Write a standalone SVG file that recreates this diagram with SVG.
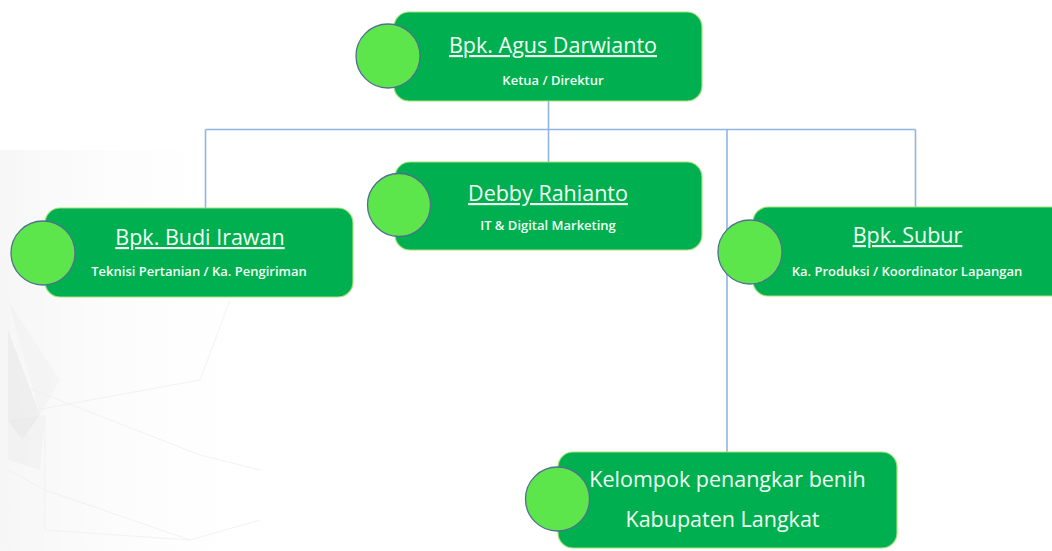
<svg xmlns="http://www.w3.org/2000/svg" width="1052" height="551" viewBox="0 0 1052 551">
  <defs>
    <linearGradient id="bgfade" x1="0" y1="0" x2="1" y2="0">
      <stop offset="0" stop-color="#d9d9d9" stop-opacity="0.55"/>
      <stop offset="1" stop-color="#ffffff" stop-opacity="0"/>
    </linearGradient>
    <style>
      .box { fill: #00b050; stroke: #a6e07a; stroke-width: 1.2; }
      .dot { fill: #5de64c; stroke: #50708f; stroke-width: 1.3; }
      .conn { stroke: #8fb6e3; stroke-width: 1.6; fill: none; }
      .title { font-family: "Open Sans", "Noto Sans", sans-serif; font-size: 21.5px; fill: #f2fff4; text-anchor: middle; text-decoration: underline; }
      .sub { font-family: "Open Sans", "Noto Sans", sans-serif; font-size: 13px; font-weight: 600; fill: #f2fff4; text-anchor: middle; }
      .big { font-family: "Open Sans", "Noto Sans", sans-serif; font-size: 21.5px; fill: #f2fff4; text-anchor: middle; }
      .poly { fill: #bdbdbd; }
      .pl { stroke: #d4d4d4; stroke-width: 0.7; fill: none; }
    </style>
  </defs>
  <rect width="1052" height="551" fill="#ffffff"/>
  <g id="background" opacity="0.4">
    <rect x="0" y="150" width="260" height="401" fill="url(#bgfade)"/>
    <polygon class="poly" points="8,330 40,415 22,440 8,420" opacity="0.45"/>
    <polygon class="poly" points="8,300 60,380 40,415" opacity="0.2"/>
    <polygon class="poly" points="8,420 45,415 40,470 8,460" opacity="0.25"/>
    <polyline class="pl" points="8,415 200,380 230,300"/>
    <polyline class="pl" points="45,415 45,530 190,540"/>
    <polyline class="pl" points="8,470 45,490 190,540 260,520"/>
    <polyline class="pl" points="8,380 200,455 260,470"/>
  </g>
  <g id="connectors">
    <line class="conn" x1="548.5" y1="101" x2="548.5" y2="162"/>
    <line class="conn" x1="205.5" y1="129.5" x2="915.5" y2="129.5"/>
    <line class="conn" x1="205.5" y1="129.5" x2="205.5" y2="208"/>
    <line class="conn" x1="915.5" y1="129.5" x2="915.5" y2="207"/>
    <line class="conn" x1="727" y1="129.5" x2="727" y2="452"/>
  </g>
  <g id="node-agus">
    <rect class="box" x="394" y="12" width="308" height="89" rx="15"/>
    <circle class="dot" cx="388" cy="56" r="32"/>
    <text class="title" x="553" y="53">Bpk. Agus Darwianto</text>
    <text class="sub" x="553" y="85">Ketua / Direktur</text>
  </g>
  <g id="node-budi">
    <rect class="box" x="45" y="208" width="308" height="89" rx="15"/>
    <circle class="dot" cx="43" cy="253" r="32"/>
    <text class="title" x="200" y="245">Bpk. Budi Irawan</text>
    <text class="sub" x="199" y="276">Teknisi Pertanian / Ka. Pengiriman</text>
  </g>
  <g id="node-debby">
    <rect class="box" x="395" y="162" width="307" height="88" rx="15"/>
    <circle class="dot" cx="399" cy="205" r="31.5"/>
    <text class="title" x="548" y="201">Debby Rahianto</text>
    <text class="sub" x="548" y="230">IT &amp; Digital Marketing</text>
  </g>
  <g id="node-subur">
    <rect class="box" x="753" y="207" width="320" height="89" rx="15"/>
    <circle class="dot" cx="750" cy="252" r="32"/>
    <text class="title" x="907.5" y="243">Bpk. Subur</text>
    <text class="sub" x="907" y="276">Ka. Produksi / Koordinator Lapangan</text>
  </g>
  <g id="node-kelompok">
    <rect class="box" x="558" y="452" width="339" height="96" rx="15"/>
    <circle class="dot" cx="557.5" cy="499" r="32"/>
    <text class="big" x="727.5" y="487">Kelompok penangkar benih</text>
    <text class="big" x="722.5" y="527">Kabupaten Langkat</text>
  </g>
</svg>
